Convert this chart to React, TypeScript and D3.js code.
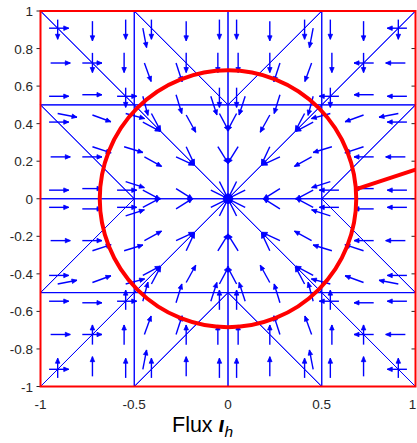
import React from "react";
import * as d3 from "d3";

// ---- data ----
const X_TICKS = [-1, -0.5, 0, 0.5, 1];
const Y_TICKS = [-1, -0.8, -0.6, -0.4, -0.2, 0, 0.2, 0.4, 0.6, 0.8, 1];
const X_TICK_LABELS = ["-1", "-0.5", "0", "0.5", "1"];
const Y_TICK_LABELS = ["-1", "-0.8", "-0.6", "-0.4", "-0.2", "0", "0.2", "0.4", "0.6", "0.8", "1"];

// Triangle types in one octant (x >= 0, 0 <= y <= x) of the mesh
const TRI_INNER = [[0, 0], [0.5, 0], [0.5, 0.5]];
const TRI_CORNER = [[0.5, 0.5], [1, 0.5], [1, 1]];
const TRI_EDGE = [[0.5, 0], [1, 0], [1, 0.5]];
const TRI_MID = [[0.5, 0], [1, 0.5], [0.5, 0.5]];

// Flux direction (degrees) at the 6 quadrature points of each triangle
// order: near v0, near v1, near v2, opposite v0, opposite v1, opposite v2
const ANG_INNER = [206.6, 208, 208, 209, 205, 212];
const ANG_CORNER = [180, 180, 180, 180, 180, 180];
const ANG_EDGE = [180, 180, 180, 180, 180, 180];
const ANG_MID = [198, 191, 195, 200, 197, 198];

const ARROW_LEN = 0.105;
const CIRCLE_R = 0.684;
const SEGMENT = [[0.68, 0.05], [1.0, 0.155]];

const TYPES = [
  { tri: TRI_INNER, ang: ANG_INNER },
  { tri: TRI_CORNER, ang: ANG_CORNER },
  { tri: TRI_EDGE, ang: ANG_EDGE },
  { tri: TRI_MID, ang: ANG_MID },
];

const QA = 0.816847572980459, QB = 0.091576213509771;
const QC = 0.108103018168070, QD = 0.445948490915965;
const BARY = [
  [QA, QB, QB], [QB, QA, QB], [QB, QB, QA],
  [QC, QD, QD], [QD, QC, QD], [QD, QD, QC],
];

type P = [number, number];
const SYMS: ((p: P) => P)[] = [];
for (const swap of [false, true])
  for (const sx of [1, -1])
    for (const sy of [1, -1])
      SYMS.push((p: P) => (swap ? [sx * p[1], sy * p[0]] : [sx * p[0], sy * p[1]]));

const W = 417, H = 443;
const x = d3.scaleLinear().domain([-1, 1]).range([40.5, 415.5]);
const y = d3.scaleLinear().domain([-1, 1]).range([386.5, 11]);

export default function App() {
  const triangles: P[][] = [];
  const arrows: { p: P; v: P }[] = [];
  for (const t of TYPES) {
    const pts = BARY.map((b) => [
      b[0] * t.tri[0][0] + b[1] * t.tri[1][0] + b[2] * t.tri[2][0],
      b[0] * t.tri[0][1] + b[1] * t.tri[1][1] + b[2] * t.tri[2][1],
    ] as P);
    for (const g of SYMS) {
      triangles.push(t.tri.map((v) => g(v as P)));
      pts.forEach((p, i) => {
        const a = (t.ang[i] * Math.PI) / 180;
        arrows.push({ p: g(p), v: g([Math.cos(a) * ARROW_LEN, Math.sin(a) * ARROW_LEN]) });
      });
    }
  }
  const blue = "#0000ff";
  const font = "'Liberation Sans', Arial, Helvetica, sans-serif";
  const triPath = d3.line<P>().x((d) => x(d[0])).y((d) => y(d[1]));

  return (
    <svg width={W} height={H} style={{ position: "absolute", left: 0, top: 0 }}>
      <rect width={W} height={H} fill="#fff" />
      <g fill="none" stroke={blue} strokeWidth={1}>
        {triangles.map((t, i) => (
          <path key={i} d={triPath([...t, t[0]] as P[]) || ""} />
        ))}
      </g>
      <g stroke={blue} strokeWidth={1.4} fill={blue} strokeLinejoin="round">
        {arrows.map((a, i) => {
          const x0 = x(a.p[0]), y0 = y(a.p[1]);
          const x1 = x(a.p[0] + a.v[0]), y1 = y(a.p[1] + a.v[1]);
          const ang = Math.atan2(y1 - y0, x1 - x0);
          const hl = 5.5, hw = 0.42;
          const hx1 = x1 - hl * Math.cos(ang - hw), hy1 = y1 - hl * Math.sin(ang - hw);
          const hx2 = x1 - hl * Math.cos(ang + hw), hy2 = y1 - hl * Math.sin(ang + hw);
          return (
            <g key={i}>
              <line x1={x0} y1={y0} x2={x1} y2={y1} />
              <path d={`M${hx1},${hy1}L${x1},${y1}L${hx2},${hy2}Z`} strokeWidth={0.8} />
            </g>
          );
        })}
      </g>
      <g stroke="#262626" strokeWidth={1}>
        {Y_TICKS.map((t, i) => (
          <g key={i}>
            <line x1={36.5} x2={40.5} y1={y(t)} y2={y(t)} />
            <line x1={411.5} x2={415.5} y1={y(t)} y2={y(t)} />
          </g>
        ))}
      </g>
      <rect x={x(-1)} y={y(1)} width={x(1) - x(-1)} height={y(-1) - y(1)} fill="none" stroke="#ff0000" strokeWidth={2} />
      <ellipse cx={x(0)} cy={y(0)} rx={x(CIRCLE_R) - x(0)} ry={y(0) - y(CIRCLE_R)} fill="none" stroke="#ff0000" strokeWidth={4} />
      <line x1={x(SEGMENT[0][0])} y1={y(SEGMENT[0][1])} x2={x(SEGMENT[1][0])} y2={y(SEGMENT[1][1])} stroke="#ff0000" strokeWidth={4} />
      <g fontFamily={font} fontSize={13.5} fill="#262626">
        {Y_TICKS.map((t, i) => (
          <text key={i} x={33} y={y(t) + 5} textAnchor="end">{Y_TICK_LABELS[i]}</text>
        ))}
        {X_TICKS.map((t, i) => (
          <text key={i} x={Math.min(x(t), 412.5)} y={409} textAnchor="middle">{X_TICK_LABELS[i]}</text>
        ))}
      </g>
      <text x={172} y={432} fontFamily={font} fontSize={21.5} fill="#000">
        Flux{" "}
        <tspan fontWeight="bold" fontStyle="italic">ι</tspan>
        <tspan fontStyle="italic" fontSize={15.5} dy={5}>h</tspan>
      </text>
    </svg>
  );
}
